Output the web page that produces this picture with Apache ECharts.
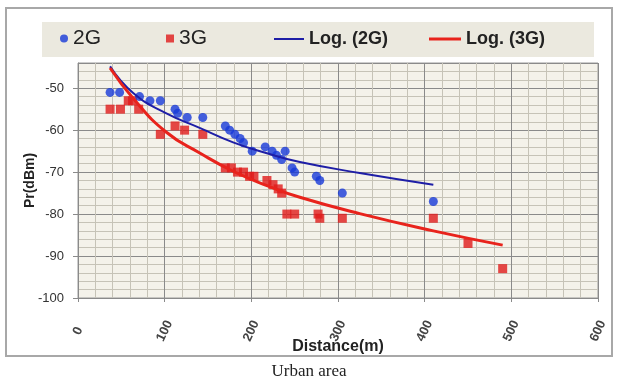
<!DOCTYPE html>
<html>
<head>
<meta charset="utf-8">
<script src="https://cdn.jsdelivr.net/npm/echarts@6/dist/echarts.min.js"></script>
<style>
  html, body { margin: 0; padding: 0; background: #fff; }
  #chart { width: 618px; height: 385px; }
</style>
</head>
<body>
<div id="chart"></div>
<script>
// measured points, distance (m) vs received power (dBm)
const dist2G = [37, 48, 71, 83, 95, 112, 115, 126, 144, 170, 175, 181, 187, 191, 201, 216, 224, 229, 235, 239, 247, 250, 275, 279, 305, 410];
const pr2G = [-51, -51, -52, -53, -53, -55, -56, -57, -57, -59, -60, -61, -62, -63, -65, -64, -65, -66, -67, -65, -69, -70, -71, -72, -75, -77];

const dist3G = [37, 49, 58, 63, 70, 95, 112, 123, 144, 170, 177, 184, 191, 198, 203, 218, 225, 231, 235, 241, 250, 277, 279, 305, 410, 450, 490];
const pr3G = [-55, -55, -53, -53, -55, -61, -59, -60, -61, -69, -69, -70, -70, -71, -71, -72, -73, -74, -75, -80, -80, -80, -81, -81, -81, -87, -93];

// log trendlines
const trendDist2G = [37, 64, 102, 141, 179, 218, 256, 325, 410];
const trend2G = [-44.8, -51.2, -56, -59.5, -62.9, -65.5, -67.6, -70.2, -73];
const trendDist3G = [37, 64, 102, 141, 179, 218, 256, 325, 410, 490];
const trend3G = [-45.2, -52.5, -60.5, -65.5, -69.8, -73.2, -76, -79.9, -84, -87.4];

const xTicks = [0, 100, 200, 300, 400, 500, 600];
const yTicks = [-100, -90, -80, -70, -60, -50];

function pairs(xs, ys) {
    return xs.map((x, i) => [x, ys[i]]);
}

let chart = echarts.init(document.getElementById('chart'));

let legendText = {
    fontFamily: 'Liberation Sans',
    color: '#222'
};

chart.setOption({
    animation: false,
    backgroundColor: '#fff',
    graphic: [
        {
            type: 'rect',
            z: -10,
            shape: {x: 6, y: 8, width: 606, height: 348},
            style: {fill: '#fff', stroke: '#a8a8a8', lineWidth: 2}
        },
        {
            type: 'rect',
            z: -5,
            shape: {x: 42, y: 22, width: 552, height: 35},
            style: {fill: '#ebe9df'}
        },
        {
            type: 'text',
            left: 'center',
            top: 363,
            style: {
                text: 'Urban area',
                font: '17px "Liberation Serif"',
                fill: '#222'
            }
        }
    ],
    legend: [
        {
            data: [{name: '2G', icon: 'circle'}],
            left: 60, top: 28, padding: 0,
            itemWidth: 8, itemHeight: 8,
            textStyle: Object.assign({fontSize: 21}, legendText)
        },
        {
            data: [{name: '3G', icon: 'rect'}],
            left: 166, top: 28, padding: 0,
            itemWidth: 8, itemHeight: 8,
            textStyle: Object.assign({fontSize: 21}, legendText)
        },
        {
            data: [{name: 'Log. (2G)', icon: 'rect'}],
            left: 274, top: 30, padding: 0,
            itemWidth: 30, itemHeight: 2,
            textStyle: Object.assign({fontSize: 18, fontWeight: 'bold'}, legendText)
        },
        {
            data: [{name: 'Log. (3G)', icon: 'rect'}],
            left: 429, top: 30, padding: 0,
            itemWidth: 32, itemHeight: 3,
            textStyle: Object.assign({fontSize: 18, fontWeight: 'bold'}, legendText)
        }
    ],
    grid: {
        left: 78,
        right: 20,
        top: 63,
        bottom: 87,
        show: true,
        backgroundColor: '#f4f2ea',
        borderColor: '#9a9a9a',
        borderWidth: 1
    },
    xAxis: {
        type: 'value',
        min: xTicks[0],
        max: xTicks[xTicks.length - 1],
        interval: 100,
        name: 'Distance(m)',
        nameLocation: 'middle',
        nameGap: 41,
        nameMoveOverlap: false,
        nameTextStyle: {fontFamily: 'Liberation Sans', fontSize: 16, fontWeight: 'bold', color: '#222'},
        axisLine: {show: true, lineStyle: {color: '#8a8a8a'}},
        axisTick: {show: true, length: 4, lineStyle: {color: '#8a8a8a'}},
        axisLabel: {
            rotate: 65,
            align: 'center',
            verticalAlign: 'middle',
            margin: 33,
            fontFamily: 'Liberation Sans',
            fontSize: 13,
            fontWeight: 'bold',
            color: '#444'
        },
        splitLine: {show: true, lineStyle: {color: '#8a8a8a', width: 1}},
        minorTick: {show: false, splitNumber: 5},
        minorSplitLine: {show: true, lineStyle: {color: '#c6c3b7', width: 1}}
    },
    yAxis: {
        type: 'value',
        min: yTicks[0],
        max: -44,
        interval: 10,
        name: 'Pr(dBm)',
        nameLocation: 'middle',
        nameGap: 41,
        nameMoveOverlap: false,
        nameTextStyle: {fontFamily: 'Liberation Sans', fontSize: 14, fontWeight: 'bold', color: '#222'},
        axisLine: {show: true, lineStyle: {color: '#8a8a8a'}},
        axisTick: {show: true, length: 5, lineStyle: {color: '#8a8a8a'}},
        axisLabel: {
            showMaxLabel: false,
            margin: 14,
            fontFamily: 'Liberation Sans',
            fontSize: 13,
            color: '#333'
        },
        splitLine: {show: true, lineStyle: {color: '#8a8a8a', width: 1}},
        minorTick: {show: false, splitNumber: 5},
        minorSplitLine: {show: true, lineStyle: {color: '#c6c3b7', width: 1}}
    },
    series: [
        {
            name: '2G',
            type: 'scatter',
            symbol: 'circle',
            symbolSize: 9,
            itemStyle: {color: '#1738d8'},
            data: pairs(dist2G, pr2G),
            z: 3
        },
        {
            name: '3G',
            type: 'scatter',
            symbol: 'rect',
            symbolSize: 9,
            itemStyle: {color: '#e01a1a'},
            data: pairs(dist3G, pr3G),
            z: 2
        },
        {
            name: 'Log. (2G)',
            type: 'line',
            smooth: true,
            symbol: 'none',
            itemStyle: {color: '#1e1ea6'},
            lineStyle: {color: '#1e1ea6', width: 2},
            data: pairs(trendDist2G, trend2G),
            z: 4
        },
        {
            name: 'Log. (3G)',
            type: 'line',
            smooth: true,
            symbol: 'none',
            itemStyle: {color: '#e8231c'},
            lineStyle: {color: '#e8231c', width: 3},
            data: pairs(trendDist3G, trend3G),
            z: 4
        }
    ]
});
</script>
</body>
</html>
